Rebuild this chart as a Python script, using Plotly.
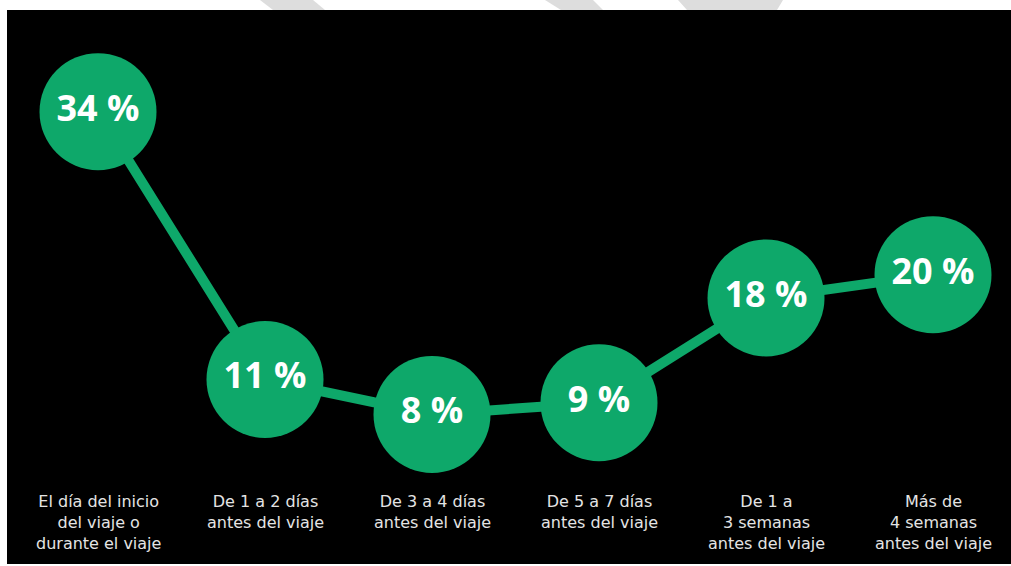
import plotly.graph_objects as go

categories = [
    "El día del inicio<br>del viaje o<br>durante el viaje",
    "De 1 a 2 días<br>antes del viaje",
    "De 3 a 4 días<br>antes del viaje",
    "De 5 a 7 días<br>antes del viaje",
    "De 1 a<br>3 semanas<br>antes del viaje",
    "Más de<br>4 semanas<br>antes del viaje",
]
values = [34, 11, 8, 9, 18, 20]
value_labels = [f"{v} %" for v in values]

GREEN = "#0EA86A"
W, H = 1011, 566
ML, MR, MT, MB = 7, 0, 10, 2
plot_w = W - ML - MR
plot_h = H - MT - MB

x_idx = list(range(len(categories)))

fig = go.Figure()
fig.add_trace(go.Scatter(
    x=x_idx, y=values,
    mode="lines+markers+text",
    line=dict(color=GREEN, width=10),
    marker=dict(size=117, color=GREEN, line=dict(width=0)),
    text=value_labels,
    textposition="middle center",
    textfont=dict(family="Open Sans", size=36, color="white", weight="bold"),
    hoverinfo="skip",
    cliponaxis=False,
))

for i, c in enumerate(categories):
    fig.add_annotation(
        x=i, xref="x", y=(H - MB - 490) / plot_h, yref="paper",
        text=c, showarrow=False, yanchor="top", xanchor="center",
        align="center",
        font=dict(family="DejaVu Sans", size=16, color="#e4e4e4"),
    )

def px_to_paper(px, py):
    return (px - ML) / plot_w, (H - MB - py) / plot_h

stripes = [
    [(260, 0), (313, 0), (325, 10), (273, 10)],
    [(545, 0), (593, 0), (603, 10), (561, 10)],
    [(678, 0), (783, 0), (777, 10), (687, 10)],
]
for s in stripes:
    pts = [px_to_paper(*p) for p in s]
    path = "M " + " L ".join(f"{x:.5f},{y:.5f}" for x, y in pts) + " Z"
    fig.add_shape(type="path", path=path, xref="paper", yref="paper",
                  fillcolor="#dddddd", line=dict(width=0), layer="above")

fig.update_layout(
    width=W, height=H,
    margin=dict(l=ML, r=MR, t=MT, b=MB),
    paper_bgcolor="white",
    plot_bgcolor="black",
    showlegend=False,
    xaxis=dict(range=[-0.545, 5.467], visible=False, fixedrange=True),
    yaxis=dict(range=[-4.85, 42.73], visible=False, fixedrange=True),
)

fig.write_html("out.html")
